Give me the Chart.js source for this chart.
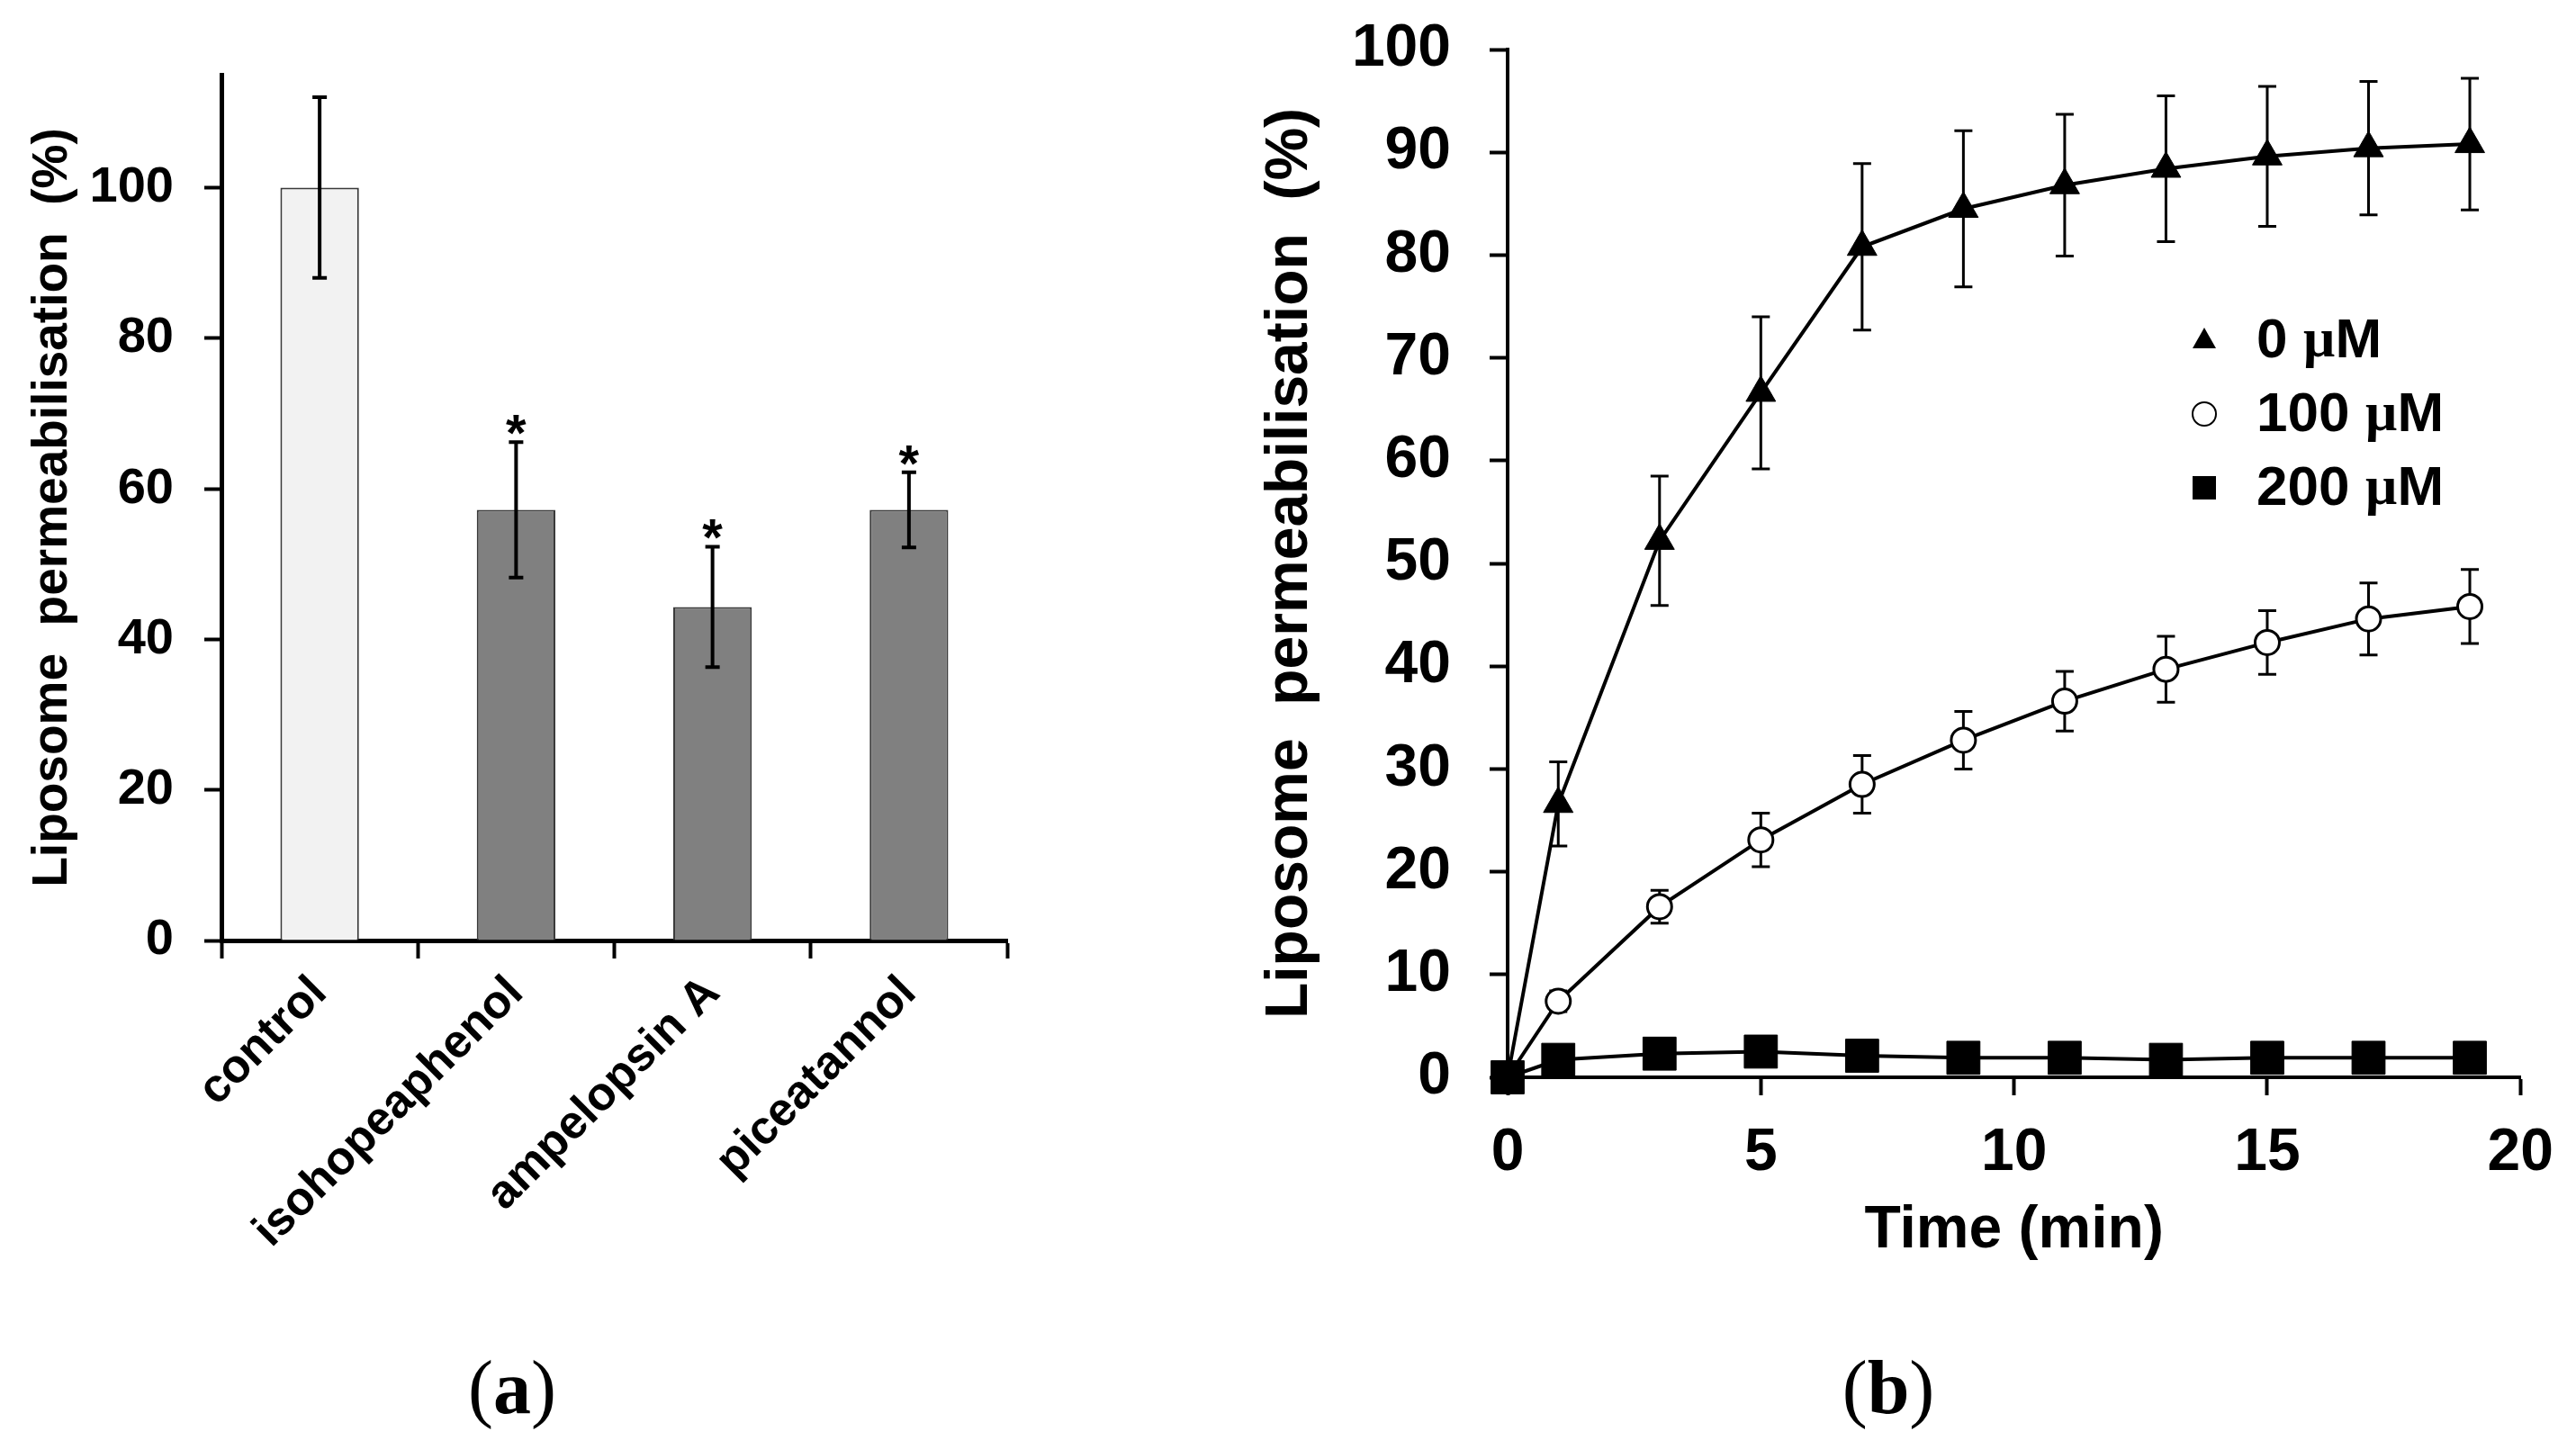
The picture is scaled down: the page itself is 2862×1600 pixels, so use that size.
<!DOCTYPE html>
<html>
<head>
<meta charset="utf-8">
<script src="https://cdn.jsdelivr.net/npm/chart.js@4.4.1/dist/chart.umd.min.js"></script>
<style>
  html, body { margin: 0; padding: 0; background: #fff; }
  body { width: 2862px; height: 1600px; position: relative; overflow: hidden; }
  canvas { position: absolute; }
  #chartA { left: 0; top: 0; }
  #chartB { left: 1340px; top: -28px; }
  .panel {
    position: absolute; top: 1500px; transform: translateX(-50%);
    font-family: "Liberation Serif", "DejaVu Serif", serif; font-size: 84px; line-height: 1; color: #000;
  }
</style>
</head>
<body>
<canvas id="chartA" width="1340" height="1420"></canvas>
<canvas id="chartB" width="1522" height="1448"></canvas>
<div class="panel" style="left:569px">(<b>a</b>)</div>
<div class="panel" style="left:2098px">(<b>b</b>)</div>
<script>
// (a) bar chart
const compounds = ['control', 'isohopeaphenol', 'ampelopsin A', 'piceatannol'];
const permeabilisation = [100, 57.2, 44.3, 57.2];
const permeabilisationSd = [12, 9, 8, 5];
const significant = [false, true, true, true];
const barColours = ['#f2f2f2', '#808080', '#808080', '#808080'];
const yTicksA = [0, 20, 40, 60, 80, 100];

// (b) time course
const timeMin = [0, 1, 3, 5, 7, 9, 11, 13, 15, 17, 19];
const conc0 = [0, 26.6, 52.2, 66.6, 80.8, 84.5, 86.8, 88.4, 89.6, 90.4, 90.8];
const conc0Sd = [0, 4.1, 6.3, 7.4, 8.1, 7.6, 6.9, 7.1, 6.8, 6.5, 6.4];
const conc100 = [0, 7.4, 16.6, 23.1, 28.5, 32.8, 36.6, 39.7, 42.3, 44.6, 45.8];
const conc100Sd = [0, 1, 1.6, 2.6, 2.8, 2.8, 2.9, 3.2, 3.1, 3.5, 3.6];
const conc200 = [0, 1.7, 2.3, 2.5, 2.1, 1.9, 1.9, 1.7, 1.9, 1.9, 1.9];
const seriesLabels = ['0 µM', '100 µM', '200 µM'];
const yTicksB = [0, 10, 20, 30, 40, 50, 60, 70, 80, 90, 100];
const xTicksB = [0, 5, 10, 15, 20];

const SANS = "'Liberation Sans', Arial, sans-serif";
Chart.defaults.font.family = SANS;
Chart.defaults.color = '#000';

const bold = (size) => ({ family: SANS, size, weight: 'bold' });
const pts = (ys) => timeMin.map((t, i) => ({ x: t, y: ys[i] }));

function drawErrorBars(chart, cap, width) {
  const { ctx } = chart;
  const yScale = chart.scales.y;
  ctx.save();
  ctx.strokeStyle = '#000';
  ctx.lineWidth = width;
  chart.data.datasets.forEach((ds, i) => {
    if (!ds.sd) return;
    chart.getDatasetMeta(i).data.forEach((el, j) => {
      const e = ds.sd[j];
      if (!e) return;
      const raw = ds.data[j];
      const v = typeof raw === 'object' ? raw.y : raw;
      const top = yScale.getPixelForValue(v + e);
      const bot = yScale.getPixelForValue(v - e);
      ctx.beginPath();
      ctx.moveTo(el.x, top);
      ctx.lineTo(el.x, bot);
      ctx.moveTo(el.x - cap, top);
      ctx.lineTo(el.x + cap, top);
      ctx.moveTo(el.x - cap, bot);
      ctx.lineTo(el.x + cap, bot);
      ctx.stroke();
    });
  });
  ctx.restore();
}

const barErrors = {
  id: 'barErrors',
  afterDatasetsDraw(chart) {
    drawErrorBars(chart, 8, 4);
    const { ctx } = chart;
    const yScale = chart.scales.y;
    const meta = chart.getDatasetMeta(0);
    ctx.save();
    ctx.fillStyle = '#000';
    ctx.font = `bold 58px ${SANS}`;
    ctx.textAlign = 'center';
    ctx.textBaseline = 'alphabetic';
    significant.forEach((sig, i) => {
      if (!sig) return;
      const top = yScale.getPixelForValue(permeabilisation[i] + permeabilisationSd[i]);
      ctx.fillText('*', meta.data[i].x, top + 10);
    });
    ctx.restore();
  },
};

const lineErrors = {
  id: 'lineErrors',
  beforeDatasetsDraw(chart) {
    drawErrorBars(chart, 10, 3);
  },
};

// legend block inside the plot, canvas coords (canvas is shifted up 28px)
const markerLegend = {
  id: 'markerLegend',
  afterDraw(chart) {
    const { ctx } = chart;
    const mx = 1109, tx = 1167, y0 = 406, dy = 82;
    ctx.save();
    chart.data.datasets.forEach((ds, i) => {
      const y = y0 + i * dy;
      ctx.fillStyle = '#000';
      ctx.strokeStyle = '#000';
      ctx.lineWidth = 2;
      ctx.beginPath();
      if (ds.pointStyle === 'triangle') {
        ctx.moveTo(mx, y - 14);
        ctx.lineTo(mx + 13, y + 9);
        ctx.lineTo(mx - 13, y + 9);
        ctx.closePath();
        ctx.fill();
      } else if (ds.pointStyle === 'circle') {
        ctx.arc(mx, y, 13, 0, Math.PI * 2);
        ctx.fillStyle = '#fff';
        ctx.fill();
        ctx.stroke();
      } else {
        ctx.rect(mx - 13, y - 13, 26, 26);
        ctx.fill();
      }
      // digits and M in sans bold, micro sign in serif like the original
      const parts = ds.label.split('µ');
      let x = tx;
      ctx.fillStyle = '#000';
      ctx.textBaseline = 'middle';
      ctx.textAlign = 'left';
      ctx.font = `bold 62px ${SANS}`;
      ctx.fillText(parts[0], x, y + 2);
      x += ctx.measureText(parts[0]).width;
      if (parts.length > 1) {
        ctx.font = "bold 62px 'Liberation Serif', serif";
        ctx.fillText('µ', x, y + 2);
        x += ctx.measureText('µ').width;
        ctx.font = `bold 62px ${SANS}`;
        ctx.fillText(parts[1], x, y + 2);
      }
    });
    ctx.restore();
  },
};

new Chart(document.getElementById('chartA'), {
  type: 'bar',
  data: {
    labels: compounds,
    datasets: [{
      data: permeabilisation,
      sd: permeabilisationSd,
      backgroundColor: barColours,
      borderColor: '#3a3a3a',
      borderWidth: 2,
      barPercentage: 0.4,
      categoryPercentage: 1,
    }],
  },
  options: {
    responsive: false,
    animation: false,
    devicePixelRatio: 1,
    layout: { padding: { top: 83, right: 221, left: 0, bottom: 0 } },
    plugins: { legend: { display: false }, tooltip: { enabled: false } },
    scales: {
      x: {
        offset: true,
        grid: { offset: true, drawOnChartArea: false, tickLength: 20, tickWidth: 4, color: '#000' },
        border: { width: 5, color: '#000' },
        ticks: { minRotation: 45, maxRotation: 45, font: bold(52), color: '#000', padding: 8 },
        afterFit: (s) => { s.height = 375; },
      },
      y: {
        min: 0,
        max: 115,
        afterBuildTicks: (s) => { s.ticks = yTicksA.map((v) => ({ value: v })); },
        grid: { drawOnChartArea: false, tickLength: 19, tickWidth: 4, color: '#000' },
        border: { width: 5, color: '#000' },
        ticks: { font: bold(56), color: '#000', padding: 34 },
        title: {
          display: true,
          text: 'Liposome  permeabilisation  (%)',
          font: bold(55),
          color: '#000',
          padding: { top: 26, bottom: 0 },
        },
        afterFit: (s) => { s.width = 246; },
      },
    },
  },
  plugins: [barErrors],
});

new Chart(document.getElementById('chartB'), {
  type: 'line',
  data: {
    datasets: [
      {
        label: seriesLabels[0], data: pts(conc0), sd: conc0Sd,
        pointStyle: 'triangle', pointRadius: 19,
        pointBackgroundColor: '#000', pointBorderColor: '#000', pointBorderWidth: 1,
        borderColor: '#000', borderWidth: 4, order: 2, clip: false,
      },
      {
        label: seriesLabels[1], data: pts(conc100), sd: conc100Sd,
        pointStyle: 'circle', pointRadius: 13.5,
        pointBackgroundColor: '#fff', pointBorderColor: '#000', pointBorderWidth: 3,
        borderColor: '#000', borderWidth: 4, order: 1, clip: false,
      },
      {
        label: seriesLabels[2], data: pts(conc200),
        pointStyle: 'rect', pointRadius: 26,
        pointBackgroundColor: '#000', pointBorderColor: '#000', pointBorderWidth: 1,
        borderColor: '#000', borderWidth: 4, order: 0, clip: false,
      },
    ],
  },
  options: {
    responsive: false,
    animation: false,
    devicePixelRatio: 1,
    layout: { padding: { top: 83, right: 58, left: 0, bottom: 0 } },
    elements: { line: { tension: 0 } },
    plugins: { legend: { display: false }, tooltip: { enabled: false } },
    scales: {
      x: {
        type: 'linear',
        min: 0,
        max: 20,
        afterBuildTicks: (s) => { s.ticks = xTicksB.map((v) => ({ value: v })); },
        grid: { drawOnChartArea: false, tickLength: 20, tickWidth: 4, color: '#000' },
        border: { width: 4, color: '#000' },
        ticks: { font: bold(66), color: '#000', padding: 25 },
        title: {
          display: true,
          text: 'Time (min)',
          font: bold(66),
          color: '#000',
          padding: { top: 0, bottom: 13 },
        },
        afterFit: (s) => { s.height = 223; },
      },
      y: {
        min: 0,
        max: 100,
        afterBuildTicks: (s) => { s.ticks = yTicksB.map((v) => ({ value: v })); },
        grid: { drawOnChartArea: false, tickLength: 20, tickWidth: 4, color: '#000' },
        border: { width: 4, color: '#000' },
        ticks: { font: bold(66), color: '#000', padding: 43 },
        title: {
          display: true,
          text: 'Liposome  permeabilisation  (%)',
          font: bold(66),
          color: '#000',
          padding: { top: 54, bottom: 0 },
        },
        afterFit: (s) => { s.width = 335; },
      },
    },
  },
  plugins: [lineErrors, markerLegend],
});
</script>
</body>
</html>
